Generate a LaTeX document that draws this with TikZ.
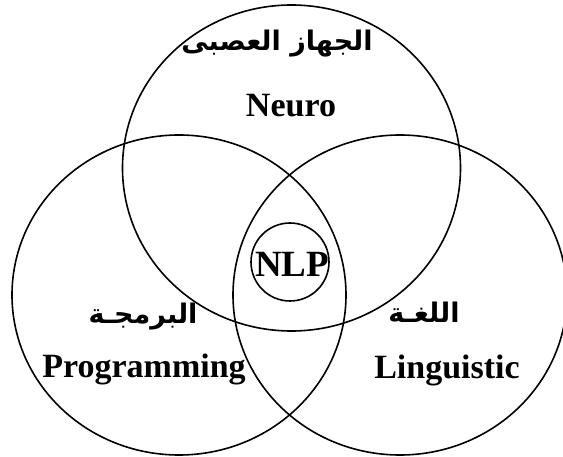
\documentclass[tikz,border=0pt]{standalone}
\usepackage{fontspec}
\setmainfont{Liberation Serif}
\newfontfamily\arabicfont[Script=Arabic]{DejaVu Sans}
\TeXXeTstate=1
\usetikzlibrary{positioning, shapes.geometric}

\begin{document}
\begin{tikzpicture}[x=1pt, y=-1pt,
    ring/.style={draw, ellipse, line width=1.6pt, inner sep=0pt},
    eng/.style={font=\fontsize{34}{40}\selectfont\bfseries, inner sep=0pt},
    arab/.style={font=\fontsize{27}{32}\selectfont\arabicfont\bfseries, inner sep=0pt}] % Setting global styles

    % 0. Page size
    \fill[white] (0,0) rectangle (563,457);
    \useasboundingbox (0,0) rectangle (563,457);

    % 1. The three big sets
    \node[ring, minimum width=338pt, minimum height=326pt] (neuro) at (291.5,168) {};
    \node[ring, minimum width=334pt, minimum height=320pt] (prog) at (179,295) {};
    \node[ring, minimum width=334pt, minimum height=320pt] (ling) at (400,295) {};

    % 2. The small set in the middle
    \node[ring, minimum size=78pt] (nlp) at (290,262) {};
    \node[eng, font=\fontsize{37}{42}\selectfont\bfseries, anchor=base] (nlptext) at (292,277) {NLP};

    % 3. Labels of the sets
    \node[arab] (neuroar) at (277,44) {\beginR الجهاز العصبى\endR};
    \node[eng, anchor=base] (neurotext) at (291,117) {Neuro};
    \node[arab] (progar) at (143,317) {\beginR البرمجـة\endR};
    \node[eng, anchor=base] (progtext) at (144,378) {Programming};
    \node[arab] (lingar) at (424,312) {\beginR اللغـة\endR};
    \node[eng, anchor=base] (lingtext) at (447,379) {Linguistic};
\end{tikzpicture}
\end{document}
